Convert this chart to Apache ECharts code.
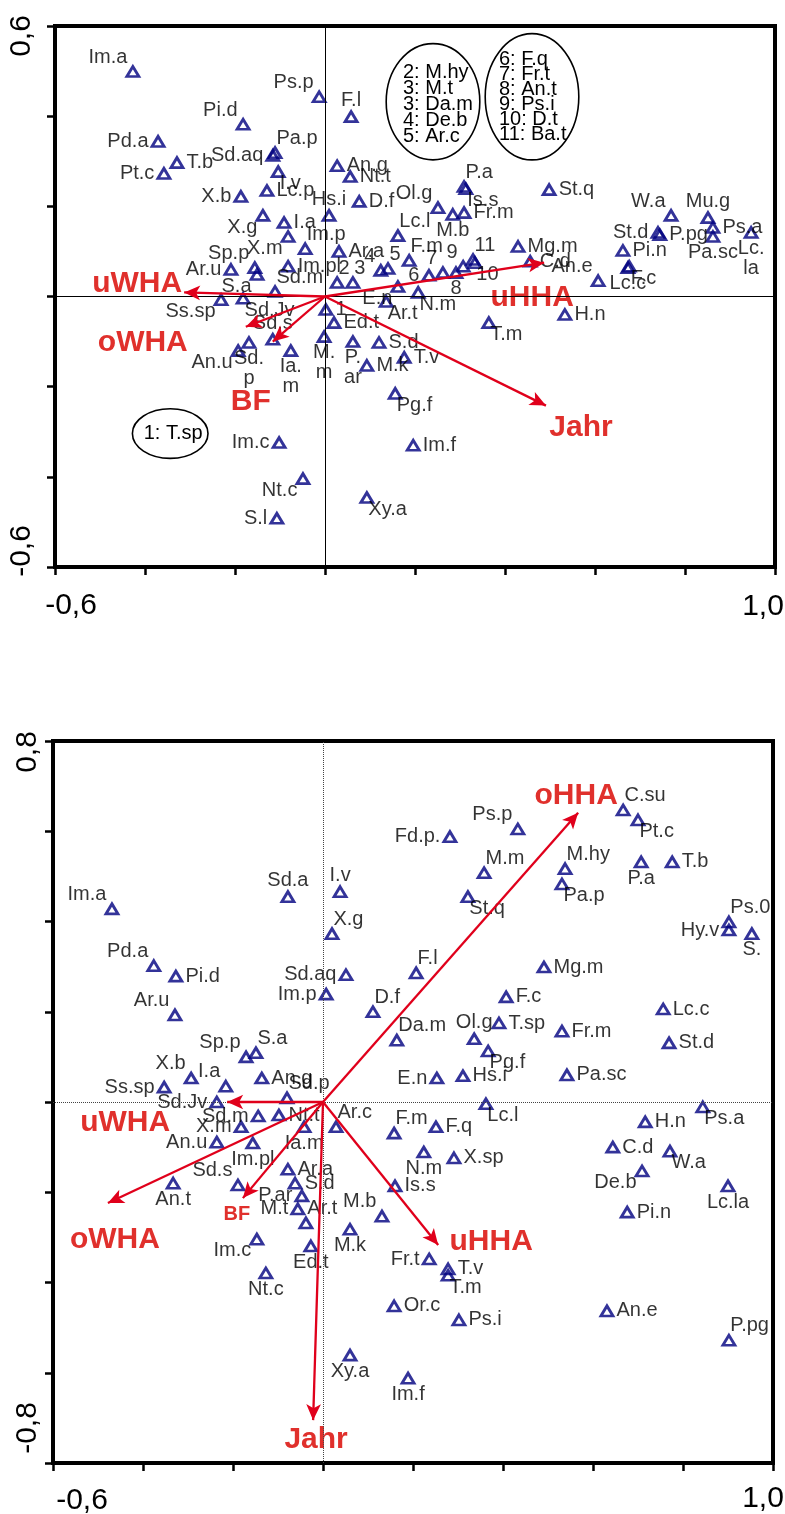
<!DOCTYPE html>
<html>
<head>
<meta charset="utf-8">
<script src="https://cdn.jsdelivr.net/npm/echarts@6/dist/echarts.min.js"></script>
<style>
  html, body { margin: 0; padding: 0; background: #fff; }
  #chart { width: 785px; height: 1514px; }
</style>
</head>
<body>
<div id="chart"></div>
<script>
// ---------- Ordination 1 (upper biplot): species scores [name, axis 1, axis 2] ----------
const topScores = [
  ['Im.a', -0.427, 0.499], ['Ps.p', -0.013, 0.443], ['F.l', 0.058, 0.399], ['Pi.d', -0.182, 0.382],
  ['Pd.a', -0.371, 0.344], ['Pa.p', -0.111, 0.319], ['Sd.aq', -0.116, 0.313], ['T.b', -0.329, 0.297],
  ['Pt.c', -0.358, 0.273], ['I.v', -0.104, 0.277], ['An.g', 0.027, 0.290], ['Nt.t', 0.056, 0.266],
  ['Lc.p', -0.129, 0.235], ['X.b', -0.187, 0.222], ['D.f', 0.076, 0.211], ['Hs.i', 0.009, 0.180],
  ['X.g', -0.138, 0.180], ['I.a', -0.091, 0.164], ['X.m', -0.082, 0.133], ['Im.p', -0.044, 0.106],
  ['Ar.a', 0.031, 0.100], ['Sp.p', -0.156, 0.064], ['Ar.u', -0.209, 0.060], ['S.a', -0.151, 0.049],
  ['Im.pl', -0.082, 0.067], ['2', 0.027, 0.031], ['3', 0.062, 0.031], ['4', 0.124, 0.058],
  ['5', 0.140, 0.062], ['Sd.m', -0.111, 0.011], ['E.n', 0.162, 0.022], ['F.m', 0.187, 0.080],
  ['Lc.l', 0.162, 0.135], ['Ol.g', 0.251, 0.197], ['P.a', 0.309, 0.244], ['Is.s', 0.313, 0.239],
  ['St.q', 0.498, 0.237], ['M.b', 0.284, 0.182], ['Fr.m', 0.309, 0.186], ['6', 0.231, 0.047],
  ['7', 0.262, 0.053], ['8', 0.291, 0.053], ['9', 0.307, 0.067], ['10', 0.333, 0.075],
  ['11', 0.329, 0.082], ['N.m', 0.207, 0.009], ['Mg.m', 0.429, 0.111], ['C.d', 0.456, 0.078],
  ['An.e', 0.607, 0.035], ['Pi.n', 0.662, 0.102], ['St.d', 0.740, 0.142], ['P.pg', 0.744, 0.137],
  ['F.c', 0.676, 0.067], ['Lc.c', 0.673, 0.064], ['W.a', 0.769, 0.180], ['Mu.g', 0.851, 0.175],
  ['Ps.a', 0.862, 0.153], ['Pa.sc', 0.862, 0.133], ['Lc.la', 0.947, 0.142], ['1', 0.002, -0.029],
  ['Ed.t', 0.020, -0.058], ['Ar.t', 0.136, -0.011], ['M.m', -0.002, -0.089], ['P.ar', 0.062, -0.100],
  ['S.d', 0.120, -0.102], ['M.k', 0.093, -0.153], ['T.v', 0.176, -0.135], ['Pg.f', 0.156, -0.215],
  ['Im.f', 0.196, -0.330], ['T.m', 0.364, -0.058], ['H.n', 0.533, -0.040], ['Ss.sp', -0.231, -0.007],
  ['Sd.Jv', -0.182, -0.004], ['Sd.s', -0.116, -0.095], ['An.u', -0.193, -0.120], ['Sd.p', -0.169, -0.102],
  ['Ia.m', -0.076, -0.120], ['Im.c', -0.102, -0.324], ['Nt.c', -0.049, -0.404], ['S.l', -0.107, -0.492],
  ['Xy.a', 0.093, -0.446]
];
// environmental vectors (arrow tips)
const topVectors = [
  ['uWHA', -0.313, 0.009], ['oWHA', -0.176, -0.067], ['BF', -0.116, -0.100],
  ['Jahr', 0.491, -0.242], ['uHHA', 0.487, 0.075]
];
// legend text for the numbered points
const topNoteTexts = [
  '2: M.hy\n3: M.t\n3: Da.m\n4: De.b\n5: Ar.c',
  '6: F.q\n7: Fr.t\n8: An.t\n9: Ps.i\n10: D.t\n11: Ba.t',
  '1: T.sp'
];
const topXTicks = ['-0,6', '1,0'];
const topYTicks = ['-0,6', '0,6'];

// ---------- Ordination 2 (lower biplot) ----------
const bottomScores = [
  ['Im.a', -0.469, 0.428], ['Sd.a', -0.078, 0.455], ['I.v', 0.038, 0.466], ['X.g', 0.020, 0.373],
  ['Pd.a', -0.376, 0.302], ['Pi.d', -0.327, 0.279], ['Sd.aq', 0.051, 0.282], ['Im.p', 0.007, 0.239],
  ['Ar.u', -0.329, 0.193], ['D.f', 0.111, 0.200], ['C.su', 0.667, 0.647], ['Pt.c', 0.700, 0.625],
  ['Ps.p', 0.433, 0.605], ['Fd.p.', 0.282, 0.588], ['M.m', 0.358, 0.508], ['M.hy', 0.538, 0.517],
  ['P.a', 0.707, 0.532], ['T.b', 0.776, 0.532], ['Pa.p', 0.531, 0.483], ['St.q', 0.322, 0.455],
  ['Ps.0', 0.902, 0.399], ['Hy.v', 0.902, 0.381], ['S.', 0.953, 0.373], ['F.l', 0.207, 0.286],
  ['Mg.m', 0.491, 0.299], ['F.c', 0.407, 0.233], ['Lc.c', 0.756, 0.206], ['Sp.p', -0.171, 0.100],
  ['S.a', -0.149, 0.109], ['X.b', -0.293, 0.053], ['I.a', -0.216, 0.035], ['An.g', -0.136, 0.053],
  ['Ss.sp', -0.353, 0.033], ['Sd.p', -0.080, 0.009], ['Sd.Jv', -0.236, 0.000], ['Sd.m', -0.144, -0.031],
  ['Nt.t', -0.098, -0.029], ['X.m', -0.182, -0.055], ['Ia.m', -0.042, -0.055], ['Ar.c', 0.029, -0.055],
  ['An.u', -0.236, -0.089], ['Im.pl', -0.156, -0.091], ['Ar.a', -0.078, -0.149], ['Sd.s', -0.189, -0.184],
  ['An.t', -0.333, -0.180], ['S.d', -0.062, -0.180], ['P.ar', -0.047, -0.208], ['M.t', -0.056, -0.237],
  ['Ar.t', -0.038, -0.268], ['Ed.t', -0.027, -0.319], ['Im.c', -0.147, -0.304], ['Nt.c', -0.127, -0.379],
  ['M.b', 0.131, -0.253], ['M.k', 0.060, -0.282], ['Da.m', 0.164, 0.137], ['Ol.g', 0.336, 0.140],
  ['T.sp', 0.391, 0.175], ['Fr.m', 0.531, 0.157], ['St.d', 0.769, 0.131], ['Pg.f', 0.367, 0.113],
  ['E.n', 0.253, 0.053], ['Hs.i', 0.311, 0.058], ['Pa.sc', 0.542, 0.060], ['Lc.l', 0.362, -0.004],
  ['Ps.a', 0.844, -0.011], ['H.n', 0.716, -0.044], ['F.m', 0.158, -0.069], ['F.q', 0.251, -0.055],
  ['C.d', 0.644, -0.100], ['W.a', 0.771, -0.109], ['N.m', 0.224, -0.111], ['X.sp', 0.291, -0.124],
  ['De.b', 0.709, -0.153], ['Is.s', 0.160, -0.186], ['Lc.la', 0.900, -0.186], ['Pi.n', 0.676, -0.244],
  ['Fr.t', 0.236, -0.348], ['T.v', 0.278, -0.370], ['T.m', 0.278, -0.384], ['Or.c', 0.158, -0.452],
  ['Ps.i', 0.302, -0.483], ['An.e', 0.631, -0.463], ['P.pg', 0.902, -0.528], ['Im.f', 0.189, -0.612],
  ['Xy.a', 0.060, -0.561]
];
const bottomVectors = [
  ['oHHA', 0.567, 0.641], ['uWHA', -0.213, 0.000], ['oWHA', -0.478, -0.224],
  ['BF', -0.178, -0.213], ['Jahr', -0.022, -0.705], ['uHHA', 0.256, -0.317]
];
const bottomXTicks = ['-0,6', '1,0'];
const bottomYTicks = ['-0,8', '0,8'];

// ---------- styling / label placement ----------
const FONT = '"Liberation Sans", Arial, Helvetica, sans-serif';
const NAVY = '#000080';
const ARROW_RED = '#e0001b';
const TEXT_RED = '#e0302c';

const topLabelSides = {
  tl: ['Im.a', 'Ps.p', 'Pi.d', 'Sp.p', '4', 'Ol.g', '7', '9', 'An.e', 'W.a'],
  tr: ['Pa.p', 'Im.p', '2', '3', '5', 'Sd.m', 'F.m', 'Lc.l', 'P.a', '11'],
  l:  ['Pd.a', 'Sd.aq', 'Pt.c', 'X.b', 'Ar.u', '6', 'St.d', 'Im.c', 'S.l'],
  t:  ['F.l', 'Hs.i', 'Mu.g', 'Sd.s'],
  b:  ['M.b', '8', 'Lc.c', 'Pa.sc', 'Lc.la', 'M.m', 'P.ar', 'Sd.p', 'Ia.m'],
  bl: ['X.g', 'X.m', 'S.a', 'E.n', 'Ss.sp', 'An.u', 'Nt.c'],
  br: ['I.v', 'Is.s', '10', 'N.m', 'F.c', 'Ar.t', 'Pg.f', 'T.m', 'Sd.Jv', 'Xy.a']
};
const topWrapped = ['Sd.p', 'Ia.m', 'M.m', 'P.ar', 'Lc.la'];

const bottomLabelSides = {
  tl: ['Im.a', 'Pd.a', 'Ar.u', 'Ps.p', 'Sp.p', 'X.b', 'I.a', 'Sd.s', 'M.b'],
  tr: ['X.g', 'D.f', 'C.su', 'M.m', 'M.hy', 'Ps.0', 'F.l', 'S.a', 'Sd.p', 'Ar.c', 'Ar.t', 'Da.m', 'F.m', 'P.pg'],
  l:  ['Sd.aq', 'Im.p', 'Fd.p.', 'Hy.v', 'Ss.sp', 'Sd.Jv', 'Sd.m', 'X.m', 'An.u', 'P.ar', 'M.t', 'E.n', 'Fr.t'],
  t:  ['Sd.a', 'I.v', 'Ol.g'],
  b:  ['P.a', 'S.', 'Ia.m', 'Im.pl', 'An.t', 'Ed.t', 'Nt.c', 'M.k', 'N.m', 'Lc.la', 'Im.f', 'Xy.a'],
  bl: ['Im.c', 'De.b'],
  br: ['Pt.c', 'Pa.p', 'St.q', 'Pg.f', 'Lc.l', 'Ps.a', 'W.a', 'T.m']
};

// label offsets (px) of the vector names relative to the arrow tips
const topVectorLabelOffset = { uWHA: [-47, -9], oWHA: [-103, 16], BF: [-22, 60], Jahr: [35, 22], uHHA: [-12, 35] };
const bottomVectorLabelOffset = { oHHA: [-2, -17], uWHA: [-102, 21], oWHA: [7, 37], BF: [-6, 16], Jahr: [3, 20], uHHA: [53, -3] };
const bottomVectorFontSize = { BF: 20 };

// ellipses around the legend blocks: centre & radii in axis units, text anchor in px
const topNotes = [
  { cx: 0.240, cy: 0.432, rx: 0.104, ry: 0.129, dx: -30, dy: 3, align: 'left', lh: 16 },
  { cx: 0.460, cy: 0.443, rx: 0.104, ry: 0.140, dx: -33, dy: 0, align: 'left', lh: 15 },
  { cx: -0.344, cy: -0.304, rx: 0.084, ry: 0.055, dx: 3, dy: 0, align: 'center', lh: 20 }
];

function labelFor(side) {
  const base = { show: true, color: '#000', fontFamily: FONT, fontSize: 20, lineHeight: 20 };
  switch (side) {
    case 'l':  return Object.assign(base, { position: 'left', distance: 2 });
    case 't':  return Object.assign(base, { position: 'top', distance: 0 });
    case 'b':  return Object.assign(base, { position: 'bottom', distance: 0 });
    case 'tl': return Object.assign(base, { position: [2, 2], align: 'right', verticalAlign: 'bottom' });
    case 'tr': return Object.assign(base, { position: [9, 2], align: 'left', verticalAlign: 'bottom' });
    case 'bl': return Object.assign(base, { position: [2, 8], align: 'right', verticalAlign: 'top' });
    case 'br': return Object.assign(base, { position: [9, 8], align: 'left', verticalAlign: 'top' });
    default:   return Object.assign(base, { position: 'right', distance: 2 });
  }
}

function speciesSeries(idx, scores, sides, wrapped, zeroLineType) {
  const sideOf = {};
  Object.keys(sides).forEach(k => sides[k].forEach(n => { sideOf[n] = k; }));
  const wrapSet = new Set(wrapped);
  return {
    type: 'scatter', xAxisIndex: idx, yAxisIndex: idx, silent: true, z: 3, animation: false,
    symbol: 'triangle', symbolSize: [12, 10],
    itemStyle: { color: 'rgba(255,255,255,0)', borderColor: NAVY, borderWidth: 2.8 },
    label: { show: true, formatter: p => wrapSet.has(p.name) ? p.name.replace('.', '.\n') : p.name },
    data: scores.map(([n, x, y]) => ({ name: n, value: [x, y], label: labelFor(sideOf[n] || 'r') })),
    markLine: {
      silent: true, animation: false, symbol: ['none', 'none'], label: { show: false },
      lineStyle: { color: zeroLineType === 'solid' ? '#000' : '#444', width: 1, type: zeroLineType },
      data: [{ xAxis: 0 }, { yAxis: 0 }]
    }
  };
}

function vectorSeries(idx, vectors, offsets, sizes) {
  return {
    type: 'scatter', xAxisIndex: idx, yAxisIndex: idx, silent: true, z: 4, animation: false,
    symbolSize: 1, itemStyle: { color: 'rgba(0,0,0,0)' },
    data: vectors.map(([n, x, y]) => ({
      name: n, value: [x, y],
      label: {
        show: true, position: 'inside', offset: offsets[n], formatter: n, opacity: 1,
        textBorderWidth: 0, fontFamily: FONT, fontWeight: 'bold',
        fontSize: (sizes && sizes[n]) || 30, color: TEXT_RED
      }
    })),
    markLine: {
      silent: true, animation: false, symbol: ['none', 'arrow'], symbolSize: [11, 16],
      label: { show: false },
      lineStyle: { color: ARROW_RED, width: 2.3, type: 'solid', opacity: 1 },
      data: vectors.map(([n, x, y]) => [{ coord: [0, 0] }, { coord: [x, y] }])
    }
  };
}

function noteSeries(idx, notes, texts) {
  return {
    type: 'custom', xAxisIndex: idx, yAxisIndex: idx, silent: true, z: 2, animation: false, clip: false,
    data: notes.map(n => [n.cx, n.cy]),
    renderItem: (params, api) => {
      const n = notes[params.dataIndex];
      const c = api.coord([n.cx, n.cy]);
      const s = api.size([n.rx, n.ry]);
      return {
        type: 'group',
        children: [
          { type: 'ellipse', shape: { cx: c[0], cy: c[1], rx: s[0], ry: s[1] },
            style: { fill: 'none', stroke: '#000', lineWidth: 1.6 } },
          { type: 'text',
            style: { text: texts[params.dataIndex], x: c[0] + n.dx, y: c[1] + n.dy, fill: '#000',
                     font: '20px ' + FONT, align: n.align, textAlign: n.align,
                     verticalAlign: 'middle', textVerticalAlign: 'middle', lineHeight: n.lh } }
        ]
      };
    }
  };
}

function valueAxis(idx, min, max) {
  return {
    type: 'value', gridIndex: idx, min: min, max: max, interval: 0.2,
    axisLine: { show: true, onZero: false, lineStyle: { color: '#000', width: 4 } },
    axisTick: { show: true, inside: false, length: 8, lineStyle: { color: '#000', width: 2.5 } },
    axisLabel: { show: false },
    splitLine: { show: false }
  };
}

function axisText(text, x, y, rotated) {
  return {
    type: 'text', x: x, y: y, rotation: rotated ? Math.PI / 2 : 0, silent: true,
    style: { text: text, fill: '#000', font: '30px ' + FONT,
             align: 'center', textAlign: 'center', verticalAlign: 'middle', textVerticalAlign: 'middle' }
  };
}

const chart = echarts.init(document.getElementById('chart'), null, { renderer: 'canvas' });
chart.setOption({
  backgroundColor: '#fff',
  animation: false,
  grid: [
    { left: 55, top: 26, width: 720, height: 541, show: true, borderColor: '#000', borderWidth: 4, backgroundColor: 'transparent' },
    { left: 53, top: 741, width: 720, height: 722, show: true, borderColor: '#000', borderWidth: 4, backgroundColor: 'transparent' }
  ],
  xAxis: [valueAxis(0, -0.6, 1.0), valueAxis(1, -0.6, 1.0)],
  yAxis: [valueAxis(0, -0.6, 0.6), valueAxis(1, -0.8, 0.8)],
  series: [
    noteSeries(0, topNotes, topNoteTexts),
    speciesSeries(0, topScores, topLabelSides, topWrapped, 'solid'),
    vectorSeries(0, topVectors, topVectorLabelOffset),
    speciesSeries(1, bottomScores, bottomLabelSides, [], 'dotted'),
    vectorSeries(1, bottomVectors, bottomVectorLabelOffset, bottomVectorFontSize)
  ],
  graphic: [
    axisText(topYTicks[1], 22, 36, true),
    axisText(topYTicks[0], 22, 551, true),
    axisText(topXTicks[0], 71, 606, false),
    axisText(topXTicks[1], 763, 607, false),
    axisText(bottomYTicks[1], 28, 752, true),
    axisText(bottomYTicks[0], 28, 1428, true),
    axisText(bottomXTicks[0], 82, 1501, false),
    axisText(bottomXTicks[1], 763, 1499, false)
  ]
});
</script>
</body>
</html>
